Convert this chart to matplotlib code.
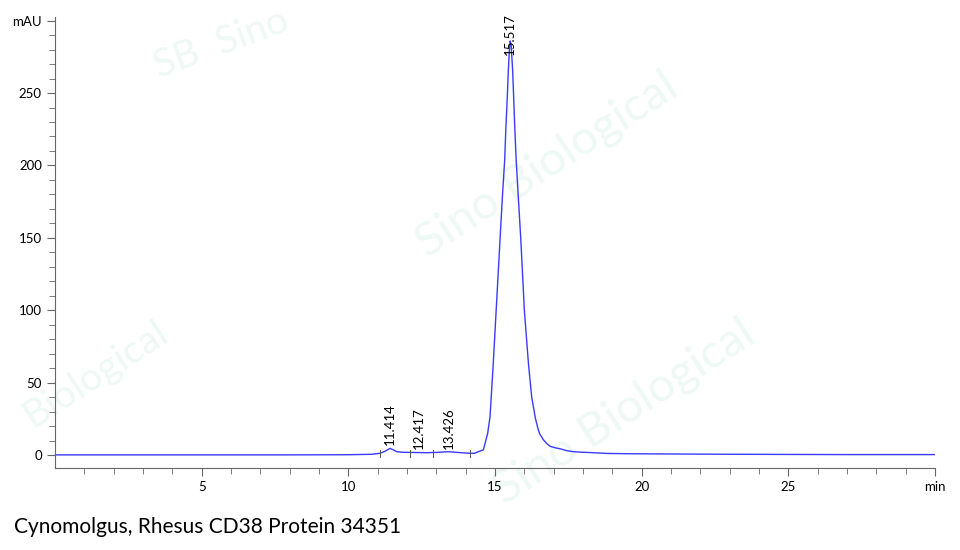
import numpy as np
import matplotlib.pyplot as plt

# chromatogram trace (min, mAU)
time = [0.0, 2.0, 4.0, 6.0, 8.0, 10.0, 10.8, 11.08, 11.25, 11.42, 11.55, 11.65, 11.85,
        12.1, 12.4, 12.67, 13.0, 13.25, 13.41, 13.6, 13.9, 14.15, 14.3, 14.43, 14.6,
        14.66, 14.75, 14.83, 14.94, 15.05, 15.17, 15.25, 15.33, 15.37, 15.42, 15.45,
        15.49, 15.517, 15.55, 15.6, 15.63, 15.67, 15.72, 15.8, 15.88, 16.0, 16.14,
        16.25, 16.38, 16.48, 16.54, 16.65, 16.76, 16.88, 17.05, 17.22, 17.45, 17.67,
        18.0, 18.35, 18.8, 19.5, 20.2, 21.07, 22.0, 23.35, 25.0, 27.0, 29.0, 30.0]
signal = [0.1, 0.1, 0.1, 0.1, 0.1, 0.2, 0.5, 1.2, 2.6, 4.6, 3.4, 2.3, 1.9,
          1.8, 1.7, 1.6, 1.8, 2.1, 2.3, 2.0, 1.5, 1.2, 1.2, 2.3, 3.5,
          8.0, 15.0, 26.5, 63.3, 104.0, 148.5, 178.0, 204.0, 226.0, 248.0, 264.0,
          280.0, 286.0, 283.0, 266.0, 250.0, 228.0, 204.0, 176.0, 148.5, 100.0, 63.0,
          40.0, 25.0, 17.0, 14.0, 10.5, 8.0, 6.0, 5.0, 4.3, 3.0, 2.3,
          1.9, 1.6, 1.1, 0.9, 0.8, 0.7, 0.6, 0.5, 0.4, 0.3, 0.3, 0.3]

peak_times = [11.414, 12.417, 13.426, 15.517]
label_bases = [7.0, 4.0, 4.5, 276.0]
peak_labels = ['11.414', '12.417', '13.426', '15.517']
marks = [11.08, 12.1, 12.9, 14.15]

caption = 'Cynomolgus, Rhesus CD38 Protein 34351'

plt.rcParams['font.family'] = ['Lato', 'DejaVu Sans']

fig = plt.figure(figsize=(9.6, 5.5), dpi=100)
ax = fig.add_axes([0.0573, 0.149, 0.9167, 0.82])
ax.set_zorder(2)

# faint watermark, kept under the axes
wm = '#eef8f4'
fig.text(0.57, 0.70, 'Sino Biological', fontsize=34, color=wm, rotation=33,
         ha='center', va='center', zorder=0)
fig.text(0.10, 0.32, 'Biological', fontsize=28, color=wm, rotation=33,
         ha='center', va='center', zorder=0)
fig.text(0.65, 0.25, 'Sino Biological', fontsize=34, color=wm, rotation=33,
         ha='center', va='center', zorder=0)
fig.text(0.23, 0.92, 'SB  Sino', fontsize=28, color=wm, rotation=20,
         ha='center', va='center', zorder=0)

ax.plot(time, signal, color='#3a3aff', lw=1.0)

for t, b, lab in zip(peak_times, label_bases, peak_labels):
    ax.text(t, b, lab, rotation=90, ha='center', va='bottom', fontsize=9.5)
for m in marks:
    ax.plot([m, m], [-1.5, 3.5], color='#555555', lw=0.7)

ax.set_xlim(0, 30)
ax.set_ylim(-9, 302.5)
ax.set_xticks([5, 10, 15, 20, 25, 30])
ax.set_xticklabels(['5', '10', '15', '20', '25', 'min'])
ax.set_xticks(np.arange(1, 30), minor=True)
ax.set_yticks([0, 50, 100, 150, 200, 250, 300])
ax.set_yticklabels(['0', '50', '100', '150', '200', '250', 'mAU'])
ax.set_yticks(np.arange(10, 300, 10), minor=True)

for s in ['top', 'right']:
    ax.spines[s].set_visible(False)
for s in ['left', 'bottom']:
    ax.spines[s].set_color('#666666')
ax.tick_params(which='both', direction='out', color='#666666', labelsize=9.5)
ax.tick_params(which='major', length=6)
ax.tick_params(which='minor', length=4)
ax.patch.set_alpha(0)

fig.text(0.015, 0.042, caption, fontsize=15, ha='left', va='center')

fig.savefig('out.png', dpi=100)
